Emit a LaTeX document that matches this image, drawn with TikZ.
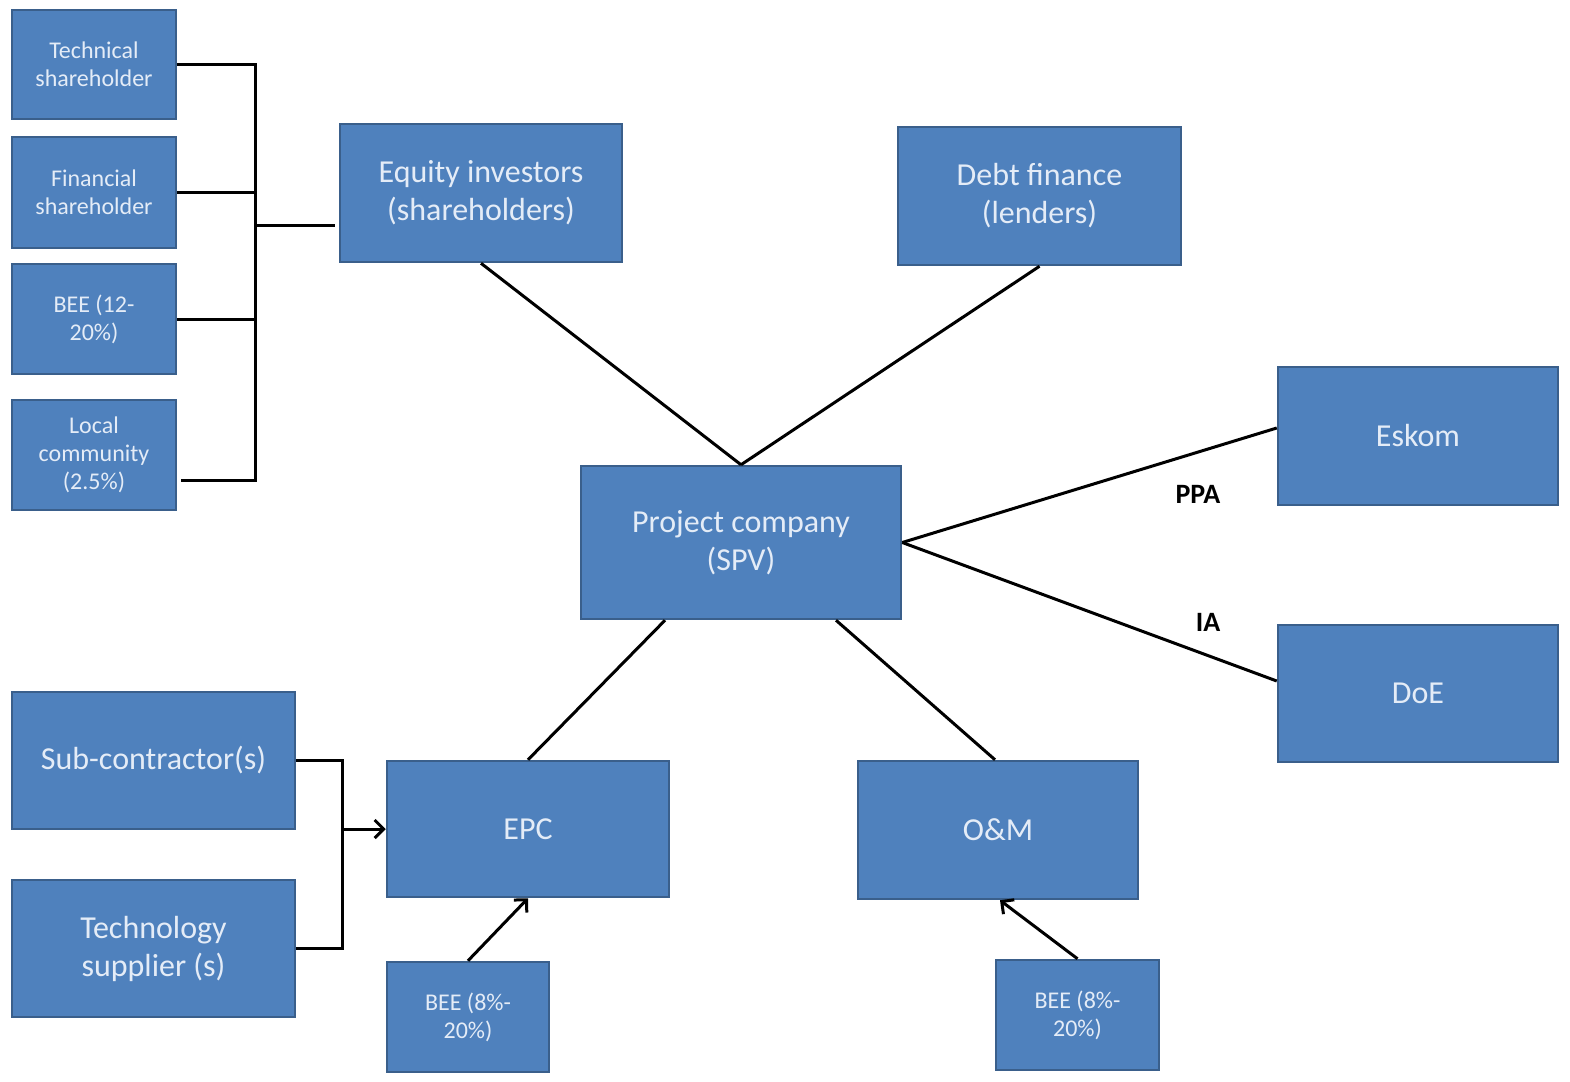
\documentclass[tikz,border=0pt]{standalone}
\usepackage{fontspec}
\setmainfont{Carlito}
\usetikzlibrary{arrows.meta,calc}
\definecolor{boxfill}{HTML}{4F81BD}
\definecolor{boxline}{HTML}{3A5F8B}
\definecolor{boxtext}{HTML}{E4ECF7}
\tikzset{
  box/.style={draw=boxline, fill=boxfill, line width=2.5pt, text=boxtext, align=center, inner sep=2pt},
  bigbox/.style={box, font=\fontsize{32}{38}\selectfont},
  smallbox/.style={box, font=\fontsize{24}{28}\selectfont},
  conn/.style={line width=3pt, black},
  arr/.style={conn, -{Straight Barb[length=9pt,width=18pt,line width=3pt]}},
  lbl/.style={font=\fontsize{28}{30}\selectfont\bfseries, text=black}
}
\begin{document}
\begin{tikzpicture}[x=1pt,y=-1pt]
\useasboundingbox[fill=white] (0,0) rectangle (1570,1081);
% left shareholder boxes
\node[smallbox, minimum width=164, minimum height=109] (tech) at (94,64.5) {Technical\\shareholder};
\node[smallbox, minimum width=164, minimum height=111] (fin) at (94,192.5) {Financial\\shareholder};
\node[smallbox, minimum width=164, minimum height=110] (bee1) at (94,319) {BEE (12-\\20\%)};
\node[smallbox, minimum width=164, minimum height=110] (local) at (94,455) {Local\\community\\(2.5\%)};
% main boxes
\node[bigbox, minimum width=282, minimum height=138] (equity) at (481,193) {Equity investors\\(shareholders)};
\node[bigbox, minimum width=283, minimum height=138] (debt) at (1039.5,196) {Debt finance\\(lenders)};
\node[bigbox, minimum width=320, minimum height=153] (spv) at (741,542.5) {Project company\\(SPV)};
\node[bigbox, minimum width=280, minimum height=138] (eskom) at (1418,436) {Eskom};
\node[bigbox, minimum width=280, minimum height=137] (doe) at (1418,693.5) {DoE};
\node[bigbox, minimum width=282, minimum height=136] (epc) at (528,829) {EPC};
\node[bigbox, minimum width=280, minimum height=138] (om) at (998,830) {O\&M};
\node[bigbox, minimum width=283, minimum height=137] (sub) at (153.5,760.5) {Sub-contractor(s)};
\node[bigbox, minimum width=283, minimum height=137] (techsup) at (153.5,948.5) {Technology\\supplier (s)};
\node[smallbox, minimum width=162, minimum height=110] (beeepc) at (468,1017) {BEE (8\%-\\20\%)};
\node[smallbox, minimum width=163, minimum height=110] (beeom) at (1077.5,1015) {BEE (8\%-\\20\%)};
% shareholder bracket
\coordinate (bx) at (255,0);
\coordinate (loc) at ($(local.east)+(4,25)$);
\coordinate (eqin) at ($(equity.west)+(-4,32)$);
\draw[conn] (tech.east) -- (tech.east -| bx) -- (loc -| bx) -- (loc);
\draw[conn] (fin.east) -- (fin.east -| bx);
\draw[conn] (bee1.east) -- (bee1.east -| bx);
\draw[conn] (eqin -| bx) -- (eqin);
% equity/debt to spv
\draw[conn] (equity.south) -- (spv.north);
\draw[conn] (debt.south) -- (spv.north);
% spv to eskom / doe
\draw[conn] (spv.east) -- ($(eskom.west)+(0,-8)$);
\draw[conn] (spv.east) -- ($(doe.west)+(0,-12.5)$);
\node[lbl] (ppa) at (1198,494) {PPA};
\node[lbl] (ia) at (1208,622) {IA};
% spv to epc / om
\draw[conn] ($(spv.south)+(-76,0)$) -- (epc.north);
\draw[conn] ($(spv.south)+(95,0)$) -- ($(om.north)+(-3,0)$);
% contractor bracket
\coordinate (cx) at (342,0);
\draw[conn] (sub.east) -- (sub.east -| cx) -- (techsup.east -| cx) -- (techsup.east);
\draw[arr] (epc.west -| cx) -- (epc.west);
% BEE arrows
\draw[arr] (beeepc.north) -- (epc.south);
\draw[arr] (beeom.north) -- ($(om.south)+(2,0)$);
\end{tikzpicture}
\end{document}
